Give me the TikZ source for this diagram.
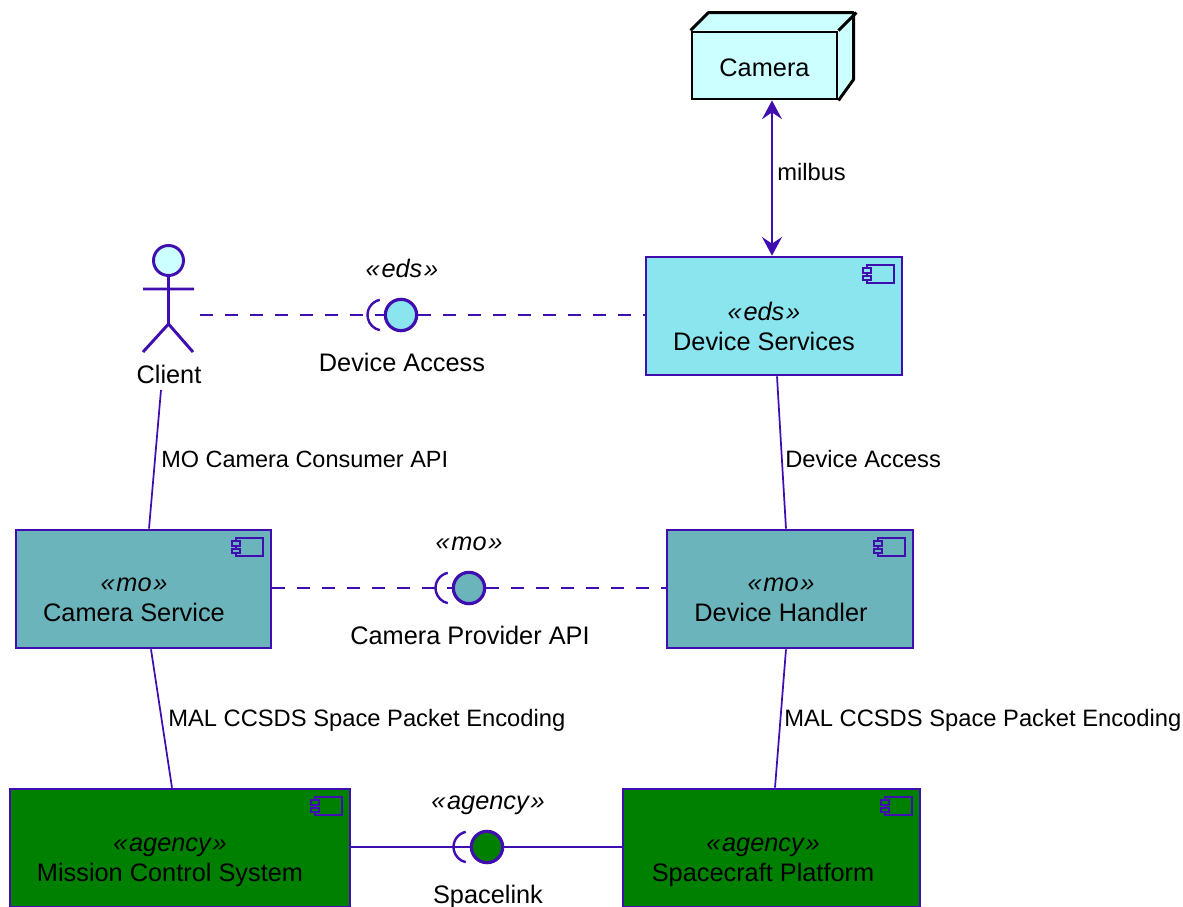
\documentclass[tikz,border=0pt]{standalone}
\usepackage{fontspec}
\usepackage{xcolor}
\setmainfont{Liberation Sans}
\usetikzlibrary{arrows.meta}

\definecolor{linecolor}{HTML}{3F0DB0}
\definecolor{cameracolor}{HTML}{CCFFFF}
\definecolor{edscolor}{HTML}{8AE5EE}
\definecolor{mocolor}{HTML}{6CB4BC}
\definecolor{agencycolor}{HTML}{008000}
\newcommand{\stereo}[1]{\textit{\guillemotleft\kern0.07em #1\kern0.07em\guillemotright}}

\begin{document}
\begin{tikzpicture}[x=0.75pt,y=-0.75pt]
        % Define styles
        \tikzset{
            component/.style={rectangle, draw=linecolor, line width=2pt, inner sep=0pt},
            boxtext/.style={font=\fontsize{19}{22.5}\selectfont, align=center, inner sep=0pt, execute at begin node=\strut, execute at end node=\strut},
            edgetext/.style={font=\fontsize{17.8}{21}\selectfont, anchor=west, inner sep=0pt},
            iface/.style={circle, draw=linecolor, line width=2.4pt, minimum size=23.5pt, inner sep=0pt},
            wire/.style={draw=linecolor, line width=1.3pt},
            dashwire/.style={wire, dash pattern=on 9.75pt off 9pt},
            arrow/.style={wire, <->, >={Stealth[length=14pt, width=15pt, inset=5pt]}},
            iconline/.style={draw=linecolor, line width=1.7pt}
        }
        \newcommand{\compicon}[2]{
            \draw[iconline] ([shift={(-36,9)}]#1.north east) rectangle ([shift={(-9,27)}]#1.north east);
            \draw[iconline, fill=#2] ([shift={(-40,12)}]#1.north east) rectangle ([shift={(-32,17)}]#1.north east);
            \draw[iconline, fill=#2] ([shift={(-40,20)}]#1.north east) rectangle ([shift={(-32,24)}]#1.north east);
        }
        \newcommand{\socket}[1]{
            \draw[iconline, line width=1.8pt] ([shift={(-18,0)}]#1.center) ++(258:15.5) arc[start angle=258, end angle=102, radius=15.5];
        }
        \useasboundingbox (0,0) rectangle (1183,907);

        % Nodes
        \node[draw=black, fill=cameracolor, line width=2.2pt, minimum width=108.75pt, minimum height=50.25pt] (camera) at (764.5,65.5) {};
        \fill[cameracolor] (camera.north west) -- ++(18,-18) -- ++(145,0) -- ++(0,67) -- (camera.south east) -- (camera.north east) -- cycle;
        \draw[black, line width=2.2pt, line join=round] (camera.north west) -- ++(18,-18) -- ++(145,0) -- ++(0,67) -- (camera.south east);
        \draw[black, line width=2.2pt] (camera.north east) -- ++(18,-18);
        \node[boxtext] (camera_text) at (764.5,70) {Camera};

        \node[component, fill=edscolor, minimum width=192pt, minimum height=88.5pt] (device_services) at (774,316) {};
        \node[component, fill=mocolor, minimum width=184.5pt, minimum height=88.5pt] (device_handler) at (790,589) {};
        \node[component, fill=mocolor, minimum width=191.25pt, minimum height=88.5pt] (camera_service) at (143.5,589) {};
        \node[component, fill=agencycolor, minimum width=255pt, minimum height=88.5pt] (mission_control) at (180,848) {};
        \node[component, fill=agencycolor, minimum width=222.75pt, minimum height=88.5pt] (spacecraft) at (771.5,848) {};
        \compicon{device_services}{edscolor}
        \compicon{device_handler}{mocolor}
        \compicon{camera_service}{mocolor}
        \compicon{mission_control}{agencycolor}
        \compicon{spacecraft}{agencycolor}

        \node[boxtext] (device_services_text) at (764,331) {\stereo{eds}\\Device Services};
        \node[boxtext] (device_handler_text) at (781,604) {\stereo{mo}\\Device Handler};
        \node[boxtext] (camera_service_text) at (134,604) {\stereo{mo}\\Camera Service};
        \node[boxtext] (mission_control_text) at (170,864) {\stereo{agency}\\Mission Control System};
        \node[boxtext] (spacecraft_text) at (763,864) {\stereo{agency}\\Spacecraft Platform};

        % Client
        \node[inner sep=0pt, minimum width=46.5pt, minimum height=2pt] (client_actor) at (169,315) {};
        \node[boxtext] (client) at (169,377) {Client};
        \draw[iconline, line width=2.2pt, fill=cameracolor] (168.5,260.5) circle[radius=15];
        \draw[iconline, line width=2.2pt] (168.5,275.5) -- (168.5,324) (143,289) -- (194,289) (143,352) -- (168.5,324) -- (193,352);

        % Interfaces
        \node[iface, fill=edscolor] (device_access) at (401,315) {};
        \node[iface, fill=mocolor] (provider_api) at (469,588) {};
        \node[iface, fill=agencycolor] (spacelink) at (487,847) {};
        \socket{device_access}
        \socket{provider_api}
        \socket{spacelink}
        \node[boxtext] (device_access_stereo) at (402,271) {\stereo{eds}};
        \node[boxtext] (device_access_text) at (402,365) {Device Access};
        \node[boxtext] (provider_api_stereo) at (469,544) {\stereo{mo}};
        \node[boxtext] (provider_api_text) at (470,638) {Camera Provider API};
        \node[boxtext] (spacelink_stereo) at (488,803) {\stereo{agency}};
        \node[boxtext] (spacelink_text) at (488,897) {Spacelink};

        % Arrows
        \draw[arrow] ([shift={(7.5,0)}]camera.south) -- ([shift={(-2,0)}]device_services.north);
        \draw[wire] ([shift={(-8,13)}]client.center) -- ([shift={(5.5,0)}]camera_service.north);
        \draw[wire] ([shift={(3,0)}]device_services.south) -- ([shift={(-4,0)}]device_handler.north);
        \draw[wire] ([shift={(7.5,0)}]camera_service.south) -- ([shift={(-8,0)}]mission_control.north);
        \draw[wire] ([shift={(-4,0)}]device_handler.south) -- ([shift={(3.5,0)}]spacecraft.north);
        \draw[dashwire] (client_actor.east) -- (device_access.west);
        \draw[dashwire] (device_access.east) -- (device_access -| device_services.west);
        \draw[dashwire] (provider_api -| camera_service.east) -- (provider_api.west);
        \draw[dashwire] (provider_api.east) -- (provider_api -| device_handler.west);
        \draw[wire] (spacelink -| mission_control.east) -- (spacelink.west);
        \draw[wire] (spacelink.east) -- (spacelink -| spacecraft.west);

        % Edge labels
        \node[edgetext] (milbus) at (777,172) {milbus};
        \node[edgetext, font=\fontsize{17.6}{21}\selectfont] (consumer_api) at (161,459) {MO Camera Consumer API};
        \node[edgetext] (device_access_edge) at (785,459) {Device Access};
        \node[edgetext] (encoding_left) at (168,720) {MAL CCSDS Space Packet Encoding};
        \node[edgetext] (encoding_right) at (784,720) {MAL CCSDS Space Packet Encoding};
\end{tikzpicture}
\end{document}
